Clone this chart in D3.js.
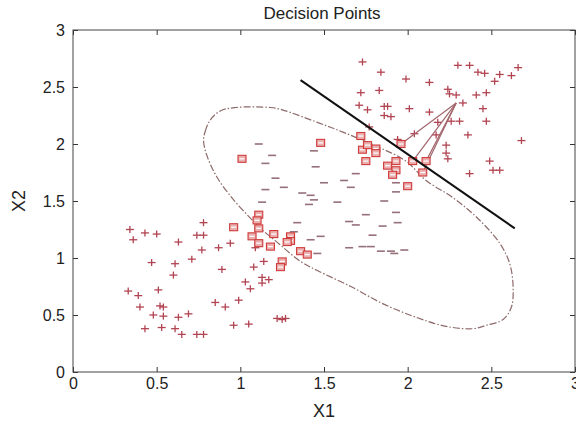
<!DOCTYPE html>
<html>
<head>
<meta charset="utf-8">
<script src="https://cdn.jsdelivr.net/npm/d3@7"></script>
<style>
  body { margin: 0; background: #fff; }
  svg { display: block; font-family: "Liberation Sans", Arial, sans-serif; }
</style>
</head>
<body>
<svg width="576" height="427"></svg>
<script>
// class +1 points
var plusX = [0.34, 0.36, 0.43, 0.50, 0.78, 0.74, 0.78, 0.63, 0.77, 0.87, 0.94, 1.09, 0.47, 0.61, 0.71, 0.60,
    0.89, 1.08, 1.14, 1.03, 1.13, 1.13, 1.17, 1.06, 0.33, 0.39, 0.51, 0.40, 0.52, 0.54, 0.85, 0.91, 0.99,
    0.48, 0.54, 0.63, 0.69, 0.43, 0.53, 0.61, 0.65, 0.74, 0.78, 0.96, 1.05, 1.22, 1.25, 1.27,
    1.73, 1.84, 1.99, 2.13, 1.72, 1.83, 1.71, 1.76, 1.86, 1.88, 1.86, 1.90, 2.01, 2.13, 2.24, 2.25, 2.29,
    2.30, 2.37, 2.42, 2.46, 2.55, 2.66, 2.62, 2.52, 2.33, 2.41, 2.47, 2.45, 2.18, 2.26, 2.31, 2.47, 2.04,
    2.17, 2.36, 2.68, 2.23, 2.23, 2.24, 2.49, 2.51, 2.55, 2.37, 1.77, 1.94];
var plusY = [1.25, 1.16, 1.22, 1.21, 1.31, 1.20, 1.20, 1.14, 1.07, 1.09, 1.13, 1.09, 0.96, 0.95, 0.99, 0.85,
    0.90, 0.92, 0.97, 0.79, 0.83, 0.78, 0.81, 0.73, 0.71, 0.67, 0.72, 0.57, 0.58, 0.57, 0.61, 0.57, 0.63,
    0.50, 0.49, 0.48, 0.51, 0.38, 0.39, 0.38, 0.33, 0.33, 0.33, 0.41, 0.42, 0.47, 0.46, 0.47,
    2.72, 2.63, 2.57, 2.54, 2.45, 2.47, 2.34, 2.30, 2.33, 2.33, 2.25, 2.24, 2.31, 2.28, 2.48, 2.44, 2.43,
    2.69, 2.69, 2.63, 2.62, 2.61, 2.67, 2.60, 2.55, 2.36, 2.43, 2.45, 2.31, 2.19, 2.20, 2.20, 2.20, 2.09,
    2.08, 2.08, 2.03, 1.99, 1.92, 1.87, 1.85, 1.77, 1.77, 1.74, 2.15, 2.04];

// class -1 points
var minusX = [1.11, 1.19, 1.15, 1.21, 1.15, 1.26, 1.13, 1.44, 1.45, 1.50, 1.62, 1.69, 1.66, 1.37, 1.42,
    1.44, 1.41, 1.58, 1.34, 1.32, 1.48, 1.42, 1.65, 1.69, 1.75, 1.65, 1.73, 1.78, 1.46, 1.93, 1.93, 1.86,
    1.93, 1.85, 1.94, 1.79, 1.84, 1.90, 1.92, 1.98];
var minusY = [2.00, 1.90, 1.83, 1.70, 1.60, 1.62, 1.49, 1.94, 1.80, 1.66, 1.68, 1.74, 1.62, 1.57, 1.55,
    1.51, 1.47, 1.49, 1.31, 1.23, 1.19, 1.16, 1.32, 1.29, 1.38, 1.09, 1.10, 1.10, 1.04, 1.66, 1.58, 1.50,
    1.40, 1.28, 1.31, 1.20, 1.06, 1.06, 1.04, 1.07];

// decision points (boxed)
var boxX = [1.01, 1.48, 1.72, 1.73, 1.76, 1.81, 1.81, 1.75, 1.93, 1.88, 1.93, 1.91, 2.00, 1.96, 2.03, 2.11,
    2.09, 1.11, 1.10, 1.11, 0.96, 1.07, 1.20, 1.30, 1.30, 1.28, 1.11, 1.18, 1.36, 1.40, 1.25, 1.24];
var boxY = [1.87, 2.01, 2.07, 1.95, 1.99, 1.96, 1.92, 1.85, 1.85, 1.81, 1.77, 1.73, 1.63, 2.00, 1.85, 1.85,
    1.75, 1.38, 1.33, 1.26, 1.27, 1.19, 1.21, 1.19, 1.15, 1.14, 1.13, 1.10, 1.06, 1.03, 0.97, 0.92];

// separating line
var lineX = [1.36, 2.64];
var lineY = [2.56, 1.26];

// rays from one point to its neighbours
var rayFrom = [2.29, 2.36];
var rayToX = [1.96, 2.03, 2.11, 2.09];
var rayToY = [2.00, 1.85, 1.85, 1.75];

// boundary contour
var ringX = [0.78, 0.79, 0.82, 0.88, 0.97, 1.18, 1.25, 1.46, 1.62, 1.83, 1.99, 2.11, 2.27, 2.41, 2.55, 2.61,
    2.63, 2.62, 2.57, 2.47, 2.39, 2.23, 2.05, 1.85, 1.66, 1.46, 1.36, 1.21, 1.12, 1.06, 0.96, 0.86, 0.80];
var ringY = [2.03, 2.11, 2.21, 2.29, 2.32, 2.32, 2.30, 2.19, 2.10, 1.97, 1.85, 1.68, 1.53, 1.36, 1.13, 0.95,
    0.75, 0.57, 0.46, 0.41, 0.38, 0.40, 0.48, 0.60, 0.75, 0.89, 0.97, 1.15, 1.26, 1.35, 1.51, 1.71, 1.90];

var ticks = [0, 0.5, 1, 1.5, 2, 2.5, 3];

var svg = d3.select("svg"),
    margin = {top: 30, right: 1, bottom: 55, left: 73},
    width = +svg.attr("width") - margin.left - margin.right,
    height = +svg.attr("height") - margin.top - margin.bottom;

var x = d3.scaleLinear().domain([0, 3]).range([0, width]),
    y = d3.scaleLinear().domain([0, 3]).range([height, 0]);

var g = svg.append("g")
    .attr("transform", "translate(" + margin.left + "," + margin.top + ")");

// axes, ticks pointing inward on all four sides
function styleAxis(sel) {
    sel.select(".domain").remove();
    sel.selectAll("line").attr("stroke", "#333");
    sel.selectAll("text").attr("font-size", 16).attr("fill", "#222");
}
g.append("g").attr("transform", "translate(0," + height + ")")
    .call(d3.axisBottom(x).tickValues(ticks).tickSizeInner(-5).tickSizeOuter(0).tickPadding(6)
        .tickFormat(d3.format("")))
    .call(styleAxis);
g.append("g")
    .call(d3.axisLeft(y).tickValues(ticks).tickSizeInner(-5).tickSizeOuter(0).tickPadding(8)
        .tickFormat(d3.format("")))
    .call(styleAxis);
g.append("g")
    .call(d3.axisTop(x).tickValues(ticks).tickSizeInner(-5).tickSizeOuter(0).tickFormat(""))
    .call(styleAxis);
g.append("g").attr("transform", "translate(" + width + ",0)")
    .call(d3.axisRight(y).tickValues(ticks).tickSizeInner(-5).tickSizeOuter(0).tickFormat(""))
    .call(styleAxis);

g.append("rect")
    .attr("width", width).attr("height", height)
    .attr("fill", "none").attr("stroke", "#444").attr("stroke-width", 1);

// contour
var ring = ringX.map(function (d, i) { return [d, ringY[i]]; });
g.append("path")
    .datum(ring)
    .attr("fill", "none")
    .attr("stroke", "#8e6a6a")
    .attr("stroke-width", 1.2)
    .attr("stroke-dasharray", "7,2,1.5,2")
    .attr("d", d3.line().x(function (d) { return x(d[0]); }).y(function (d) { return y(d[1]); })
        .curve(d3.curveCatmullRomClosed));

// minus markers
g.selectAll(".minus")
    .data(minusX)
    .enter().append("line")
    .attr("class", "minus")
    .attr("x1", function (d) { return x(d) - 4; })
    .attr("x2", function (d) { return x(d) + 4; })
    .attr("y1", function (d, i) { return y(minusY[i]); })
    .attr("y2", function (d, i) { return y(minusY[i]); })
    .attr("stroke", "#95707a")
    .attr("stroke-width", 1.6);

// plus markers
var plus = g.selectAll(".plus")
    .data(plusX)
    .enter().append("g")
    .attr("class", "plus")
    .attr("transform", function (d, i) { return "translate(" + x(d) + "," + y(plusY[i]) + ")"; });
plus.append("line").attr("x1", -4).attr("x2", 4).attr("y1", 0).attr("y2", 0);
plus.append("line").attr("x1", 0).attr("x2", 0).attr("y1", -3.5).attr("y2", 3.5);
plus.selectAll("line").attr("stroke", "#b24452").attr("stroke-width", 1.3);

// rays
g.selectAll(".ray")
    .data(rayToX)
    .enter().append("line")
    .attr("class", "ray")
    .attr("x1", x(rayFrom[0]))
    .attr("y1", y(rayFrom[1]))
    .attr("x2", function (d) { return x(d); })
    .attr("y2", function (d, i) { return y(rayToY[i]); })
    .attr("stroke", "#a2666c")
    .attr("stroke-width", 1.2);

// boxed decision points
var box = g.selectAll(".box")
    .data(boxX)
    .enter().append("g")
    .attr("class", "box")
    .attr("transform", function (d, i) { return "translate(" + x(d) + "," + y(boxY[i]) + ")"; });
box.append("rect")
    .attr("x", -4).attr("y", -3.5).attr("width", 8).attr("height", 7)
    .attr("fill", "#eab0b0").attr("stroke", "#d03a3a").attr("stroke-width", 1.1);
box.append("line")
    .attr("x1", -2.5).attr("x2", 2.5).attr("y1", 0).attr("y2", 0)
    .attr("stroke", "#fff").attr("stroke-width", 1.2);

// separating line
g.append("line")
    .attr("x1", x(lineX[0])).attr("y1", y(lineY[0]))
    .attr("x2", x(lineX[1])).attr("y2", y(lineY[1]))
    .attr("stroke", "#111")
    .attr("stroke-width", 2);

// labels
svg.append("text")
    .attr("x", 322).attr("y", 19)
    .attr("text-anchor", "middle")
    .attr("font-size", 17)
    .attr("fill", "#222")
    .text("Decision Points");

svg.append("text")
    .attr("x", margin.left + x(1.5)).attr("y", 417)
    .attr("text-anchor", "middle")
    .attr("font-size", 18)
    .attr("fill", "#222")
    .text("X1");

svg.append("text")
    .attr("transform", "translate(25," + (margin.top + y(1.5)) + ") rotate(-90)")
    .attr("text-anchor", "middle")
    .attr("font-size", 18)
    .attr("fill", "#222")
    .text("X2");
</script>
</body>
</html>
